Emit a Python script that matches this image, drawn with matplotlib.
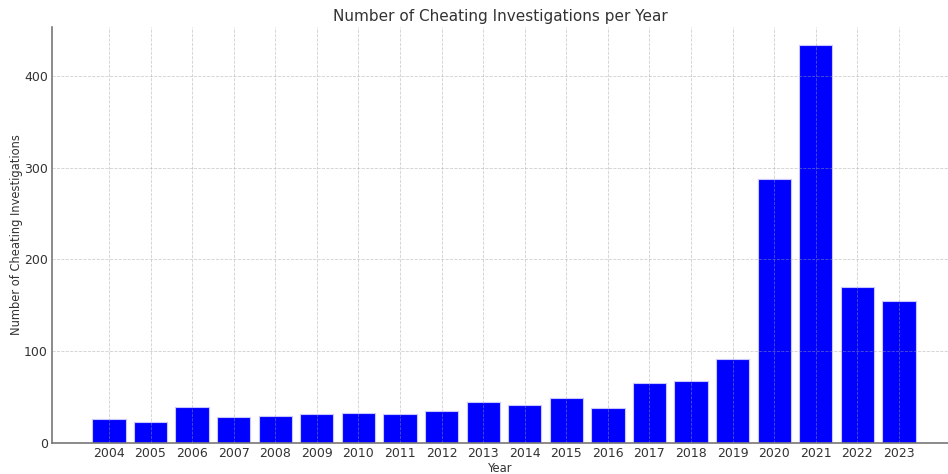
import matplotlib
matplotlib.use("Agg")
import matplotlib.pyplot as plt

years = [2004, 2005, 2006, 2007, 2008, 2009, 2010, 2011, 2012, 2013,
         2014, 2015, 2016, 2017, 2018, 2019, 2020, 2021, 2022, 2023]
investigations = [26, 23, 39, 28, 29, 32, 33, 32, 35, 45,
                  41, 49, 38, 65, 68, 91, 288, 433, 170, 155]
title = "Number of Cheating Investigations per Year"
xlabel = "Year"
ylabel = "Number of Cheating Investigations"

W, H = 948, 474
fig = plt.figure(figsize=(W / 100, H / 100), dpi=100)
ax = fig.add_axes([52 / W, 1 - 443 / H, (W - 52) / W, (443 - 27) / H])

x = list(range(len(years)))
ax.bar(x, investigations, width=0.8, color="blue", edgecolor="#c8c8ff", linewidth=0.8, zorder=2)

ax.set_xticks(x)
ax.set_xticklabels([str(y) for y in years])
ax.set_xlim(-1.37, len(years) - 1 + 1.18)
ax.set_ylim(0, 453)
ax.set_yticks([0, 100, 200, 300, 400])

ax.grid(True, linestyle="--", color="#a0a0a0", alpha=0.5, linewidth=0.6, zorder=3)
ax.set_axisbelow(False)
for s in ["top", "right"]:
    ax.spines[s].set_visible(False)
for s in ["left", "bottom"]:
    ax.spines[s].set_color("#777777")
    ax.spines[s].set_linewidth(1.2)
ax.tick_params(length=0, labelsize=9, colors="#333333", pad=3)

ax.set_title(title, fontsize=11, color="#333333", pad=4)
ax.set_xlabel(xlabel, fontsize=8.3, color="#333333", labelpad=1)
ax.set_ylabel(ylabel, fontsize=8.3, color="#333333", labelpad=1)

fig.savefig("out.png", dpi=100)
